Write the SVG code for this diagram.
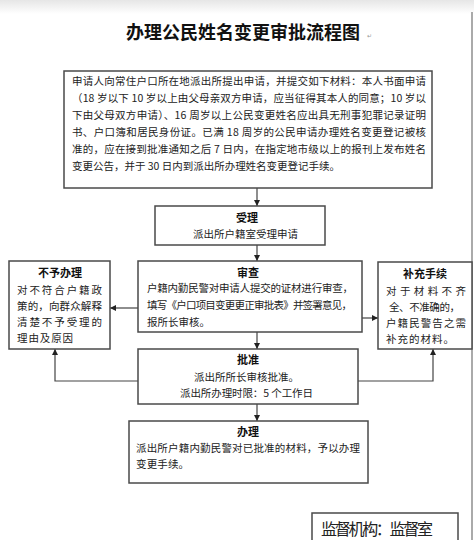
<svg xmlns="http://www.w3.org/2000/svg" width="474" height="540" viewBox="0 0 474 540">
<defs>
<linearGradient id="topband" x1="0" y1="0" x2="0" y2="1">
<stop offset="0" stop-color="#e6e6e6"/>
<stop offset="1" stop-color="#ffffff"/>
</linearGradient>
<marker id="ah" viewBox="0 0 10 10" refX="10" refY="5" markerWidth="6" markerHeight="6" markerUnits="userSpaceOnUse" orient="auto">
<path d="M0,0 L10,5 L0,10 z" fill="#222"/>
</marker>
</defs>
<style>
.box{fill:#fff;stroke:#4a4a4a;stroke-width:1.5}
.t{font-family:"Noto Sans CJK SC","Noto Sans CJK TC",sans-serif;font-size:10.5px;fill:#222}
.h{font-family:"Noto Sans CJK SC","Noto Sans CJK TC",sans-serif;font-size:11px;font-weight:bold;fill:#111;text-anchor:middle}
.c{fill:none;stroke:#444;stroke-width:1.2}
</style>
<rect width="474" height="540" fill="#fff"/>
<rect width="474" height="14" fill="url(#topband)"/>
<line x1="472" y1="12" x2="472" y2="540" stroke="#aaa" stroke-width="2"/>
<text x="243" y="39" text-anchor="middle" font-family="'Noto Sans CJK SC',sans-serif" font-size="18" font-weight="bold" fill="#111">办理公民姓名变更审批流程图</text>
<text x="367" y="38" font-family="'Noto Sans CJK SC',sans-serif" font-size="6" fill="#999">↵</text>

<g id="connectors">
<line class="c" x1="257" y1="188" x2="257" y2="206" marker-end="url(#ah)"/>
<line class="c" x1="257" y1="245" x2="257" y2="261" marker-end="url(#ah)"/>
<line class="c" x1="138" y1="308" x2="110" y2="308" marker-end="url(#ah)"/>
<line class="c" x1="362" y1="318" x2="378" y2="318" marker-end="url(#ah)"/>
<line class="c" x1="257" y1="332" x2="257" y2="349" marker-end="url(#ah)"/>
<polyline class="c" points="138,381 55,381 55,349" marker-end="url(#ah)"/>
<polyline class="c" points="358,381 433,381 433,349" marker-end="url(#ah)"/>
<line class="c" x1="257" y1="404" x2="257" y2="421" marker-end="url(#ah)"/>
</g>

<g id="apply">
<rect class="box" x="64" y="71" width="368" height="117"/>
<text class="t" x="72" y="85" textLength="354" lengthAdjust="spacing">申请人向常住户口所在地派出所提出申请，并提交如下材料：本人书面申请</text>
<text class="t" x="72" y="102" textLength="354" lengthAdjust="spacing">（18 岁以下 10 岁以上由父母亲双方申请，应当征得其本人的同意；10 岁以</text>
<text class="t" x="72" y="119" textLength="354" lengthAdjust="spacing">下由父母双方申请）、16 周岁以上公民变更姓名应出具无刑事犯罪记录证明</text>
<text class="t" x="72" y="136" textLength="354" lengthAdjust="spacing">书、户口簿和居民身份证。已满 18 周岁的公民申请办理姓名变更登记被核</text>
<text class="t" x="72" y="153" textLength="354" lengthAdjust="spacing">准的，应在接到批准通知之后 7 日内，在指定地市级以上的报刊上发布姓名</text>
<text class="t" x="72" y="170" textLength="268" lengthAdjust="spacing">变更公告，并于 30 日内到派出所办理姓名变更登记手续。</text>
</g>

<g id="accept">
<rect class="box" x="155" y="206" width="170" height="39"/>
<text class="h" x="247" y="222">受理</text>
<text class="t" x="193" y="238" textLength="105" lengthAdjust="spacing">派出所户籍室受理申请</text>
</g>

<g id="review">
<rect class="box" x="138" y="261" width="224" height="71"/>
<text class="h" x="248" y="277">审查</text>
<text class="t" x="147" y="292" textLength="206" lengthAdjust="spacing">户籍内勤民警对申请人提交的证材进行审查，</text>
<text class="t" x="147" y="309" textLength="205" lengthAdjust="spacing">填写《户口项目变更更正审批表》并签署意见，</text>
<text class="t" x="147" y="326" textLength="63" lengthAdjust="spacing">报所长审核。</text>
</g>

<g id="reject">
<rect class="box" x="9" y="261" width="101" height="88"/>
<text class="h" x="60" y="277">不予办理</text>
<text class="t" x="17" y="294" textLength="85" lengthAdjust="spacing">对不符合户籍政</text>
<text class="t" x="17" y="310" textLength="85" lengthAdjust="spacing">策的，向群众解释</text>
<text class="t" x="17" y="326" textLength="85" lengthAdjust="spacing">清楚不予受理的</text>
<text class="t" x="17" y="342" textLength="56" lengthAdjust="spacing">理由及原因</text>
</g>

<g id="supplement">
<rect class="box" x="378" y="262" width="94" height="87"/>
<text class="h" x="425" y="278">补充手续</text>
<text class="t" x="386" y="295" textLength="80" lengthAdjust="spacing">对于材料不齐</text>
<text class="t" x="389" y="311" textLength="71" lengthAdjust="spacing">全、不准确的，</text>
<text class="t" x="386" y="327" textLength="80" lengthAdjust="spacing">户籍民警告之需</text>
<text class="t" x="386" y="343" textLength="68" lengthAdjust="spacing">补充的材料。</text>
</g>

<g id="approve">
<rect class="box" x="138" y="349" width="220" height="55"/>
<text class="h" x="248" y="364">批准</text>
<text class="t" x="194" y="381" textLength="105" lengthAdjust="spacing">派出所所长审核批准。</text>
<text class="t" x="180" y="397" textLength="133" lengthAdjust="spacing">派出所办理时限：5 个工作日</text>
</g>

<g id="handle">
<rect class="box" x="129" y="421" width="239" height="62"/>
<text class="h" x="248" y="436">办理</text>
<text class="t" x="136" y="452" textLength="224" lengthAdjust="spacing">派出所户籍内勤民警对已批准的材料，予以办理</text>
<text class="t" x="136" y="468" textLength="53" lengthAdjust="spacing">变更手续。</text>
</g>

<g id="supervision">
<rect class="box" x="312" y="513" width="146" height="40"/>
<text x="321" y="535" font-family="'Noto Sans CJK SC',sans-serif" font-size="16" fill="#222" textLength="112" lengthAdjust="spacing">监督机构：监督室</text>
</g>
</svg>
